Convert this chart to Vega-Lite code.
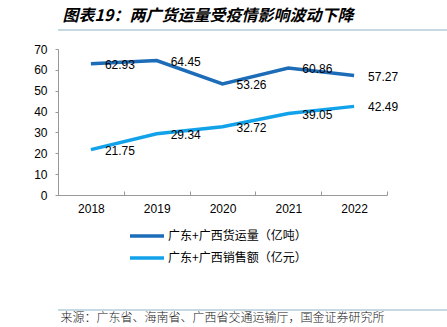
{
  "$schema": "https://vega.github.io/schema/vega-lite/v6.json",
  "background": "white",
  "padding": {"left": 15, "top": 8, "right": 0, "bottom": 0},
  "spacing": 12,
  "resolve": {"legend": {"color": "independent"}, "scale": {"color": "independent", "x": "independent", "y": "independent"}},
  "config": {
    "view": {"stroke": null},
    "font": "Liberation Sans"
  },
  "vconcat": [
    {
      "title": {
        "text": "图表19：两广货运量受疫情影响波动下降",
        "font": "Noto Sans CJK SC",
        "fontSize": 16,
        "fontWeight": "bold",
        "fontStyle": "italic",
        "color": "#000000",
        "anchor": "start",
        "dx": 5,
        "offset": 5
      },
      "width": 389,
      "height": 1,
      "data": {"values": [{"line": "top"}]},
      "mark": {"type": "rule", "color": "#8db4c8", "strokeWidth": 1},
      "encoding": {
        "x": {"datum": 0, "type": "quantitative", "scale": {"domain": [0, 1], "nice": false}, "axis": null},
        "x2": {"datum": 1},
        "y": {"datum": 0, "type": "quantitative", "scale": {"domain": [0, 1], "nice": false}, "axis": null}
      }
    },
    {
      "width": 329,
      "height": 146,
      "data": {
        "values": [
          {"year": "2018", "series": "广东+广西货运量（亿吨）", "value": 62.93},
          {"year": "2019", "series": "广东+广西货运量（亿吨）", "value": 64.45},
          {"year": "2020", "series": "广东+广西货运量（亿吨）", "value": 53.26},
          {"year": "2021", "series": "广东+广西货运量（亿吨）", "value": 60.86},
          {"year": "2022", "series": "广东+广西货运量（亿吨）", "value": 57.27},
          {"year": "2018", "series": "广东+广西销售额（亿元）", "value": 21.75},
          {"year": "2019", "series": "广东+广西销售额（亿元）", "value": 29.34},
          {"year": "2020", "series": "广东+广西销售额（亿元）", "value": 32.72},
          {"year": "2021", "series": "广东+广西销售额（亿元）", "value": 39.05},
          {"year": "2022", "series": "广东+广西销售额（亿元）", "value": 42.49}
        ]
      },
      "encoding": {
        "x": {
          "field": "year",
          "type": "ordinal",
          "bandPosition": 0.5,
          "scale": {"type": "band", "paddingInner": 0, "paddingOuter": 0},
          "axis": {
            "title": null,
            "labelAngle": 0,
            "tickBand": "extent",
            "tickSize": -4,
            "labelPadding": 12,
            "domainColor": "#999999",
            "tickColor": "#999999",
            "labelColor": "#000000",
            "labelFontSize": 12,
            "labelFont": "Liberation Sans"
          }
        },
        "y": {
          "field": "value",
          "type": "quantitative",
          "scale": {"domain": [0, 70], "nice": false},
          "axis": {
            "title": null,
            "values": [0, 10, 20, 30, 40, 50, 60, 70],
            "grid": false,
            "tickSize": 3,
            "labelPadding": 8,
            "minExtent": 43,
            "domainColor": "#999999",
            "tickColor": "#999999",
            "labelColor": "#000000",
            "labelFontSize": 12,
            "labelFont": "Liberation Sans"
          }
        }
      },
      "layer": [
        {
          "mark": {"type": "line", "strokeWidth": 3.5},
          "encoding": {
            "color": {
              "field": "series",
              "type": "nominal",
              "scale": {"range": ["#1c6cb8", "#12a2ea"]},
              "legend": {
                "title": null,
                "orient": "none",
                "legendX": 50,
                "legendY": 148,
                "direction": "vertical",
                "symbolType": "M-3.4,0H3.4",
                "symbolStrokeWidth": 3.5,
                "symbolSize": 100,
                "labelFont": "Noto Sans CJK SC",
                "labelFontSize": 12,
                "labelColor": "#000000",
                "labelOffset": 14,
                "rowPadding": 8,
                "padding": 32
              }
            }
          }
        },
        {
          "mark": {"type": "text", "align": "left", "baseline": "middle", "dx": 14, "dy": 1, "fontSize": 12, "font": "Liberation Sans", "color": "#000000"},
          "encoding": {
            "text": {"field": "value", "type": "quantitative", "format": ".2f"}
          }
        }
      ]
    },
    {
      "title": {
        "text": "来源：广东省、海南省、广西省交通运输厅，国金证券研究所",
        "orient": "bottom",
        "font": "Noto Sans CJK SC",
        "fontSize": 12,
        "fontWeight": 300,
        "color": "#222222",
        "anchor": "start",
        "dx": 3,
        "offset": 2
      },
      "width": 389,
      "height": 1,
      "data": {"values": [{"line": "bottom"}]},
      "mark": {"type": "rule", "color": "#8db4c8", "strokeWidth": 1},
      "encoding": {
        "x": {"datum": 0, "type": "quantitative", "scale": {"domain": [0, 1], "nice": false}, "axis": null},
        "x2": {"datum": 1},
        "y": {"datum": 0, "type": "quantitative", "scale": {"domain": [0, 1], "nice": false}, "axis": null}
      }
    }
  ]
}
